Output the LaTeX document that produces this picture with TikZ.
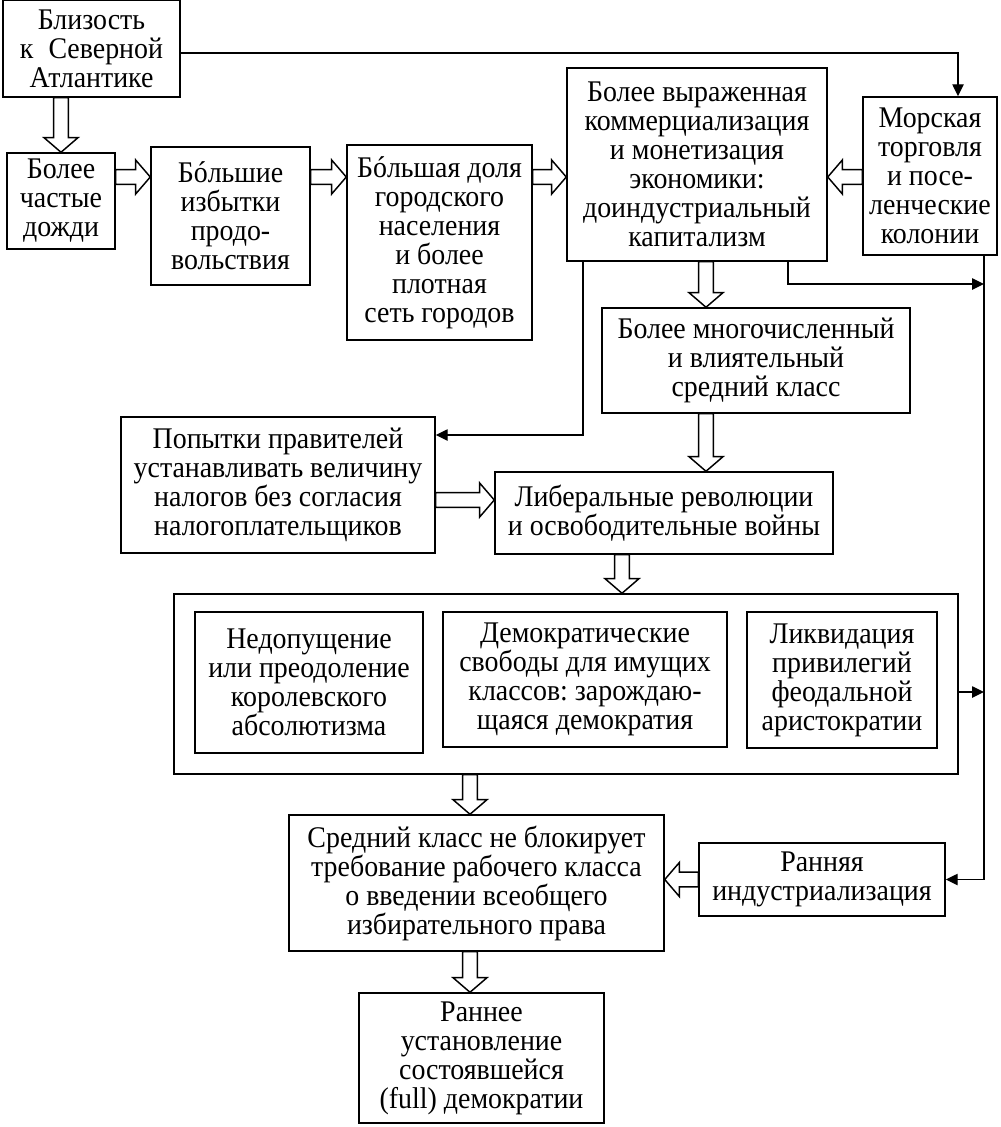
\documentclass[tikz,border=0pt]{standalone}
\usepackage{fontspec}
\setmainfont{Liberation Serif}[FakeStretch=0.93]
\frenchspacing
\usetikzlibrary{calc,arrows.meta}
\newcommand\bx[6]{\node[rbox, minimum width={(#4-#2)*0.75pt}, minimum height={(#5-#3)*0.75pt}] (#1) at ({(#2+#4)/2},{(#3+#5)/2}) {#6};}
\newcommand\hollow[2]{%
  \coordinate (hA) at #1; \coordinate (hB) at #2;
  \coordinate (hC) at ($(hB)!11pt!(hA)$);
  \draw[hollowarrow] ($(hA)!5.6pt!90:(hB)$) -- ($(hC)!5.6pt!90:(hB)$) -- ($(hC)!12.8pt!90:(hB)$) -- (hB)
     -- ($(hC)!12.8pt!-90:(hB)$) -- ($(hC)!5.6pt!-90:(hB)$) -- ($(hA)!5.6pt!-90:(hB)$) -- cycle;}
\begin{document}
\begin{tikzpicture}[x=0.75pt,y=-0.75pt,
  rbox/.style={draw, line width=1.1pt, align=center, inner sep=0pt, font=\fontsize{22.5}{21.75}\selectfont},
  hollowarrow/.style={draw, fill=white, line width=1.1pt, line join=miter},
  conn/.style={draw, line width=1.1pt, -{Triangle[length=9pt,width=8.5pt]}},
  plain/.style={draw, line width=1.1pt}]
\useasboundingbox (0,0) rectangle (1000,1127);

\bx{blz}{3}{0}{180}{97}{Близость\\к\enspace Северной\\Атлантике}
\bx{dzh}{7}{153}{115}{249}{Более\\частые\\дожди}
\bx{bsh}{151}{147}{310}{285}{Бóльшие\\избытки\\продо-\\вольствия}
\bx{bdl}{347}{145}{532}{340}{Бóльшая доля\\городского\\населения\\и более\\плотная\\сеть городов}
\bx{vyr}{567}{68}{827}{261}{Более выраженная\\коммерциализация\\и монетизация\\экономики:\\доиндустриальный\\капитализм}
\bx{mor}{863}{97}{997}{255}{Морская\\торговля\\и посе-\\ленческие\\колонии}
\bx{mng}{602}{308}{910}{413}{Более многочисленный\\и влиятельный\\средний класс}
\bx{pop}{121}{417}{435}{553}{Попытки правителей\\устанавливать величину\\налогов без согласия\\налогоплательщиков}
\bx{lib}{495}{472}{833}{554}{Либеральные революции\\и освободительные войны}
\bx{cont}{174}{594}{958}{774}{}
\bx{ned}{195}{612}{423}{753}{Недопущение\\или преодоление\\королевского\\абсолютизма}
\bx{dem}{443}{612}{727}{747}{Демократические\\свободы для имущих\\классов: зарождаю-\\щаяся демократия}
\bx{lik}{747}{612}{937}{748}{Ликвидация\\привилегий\\феодальной\\аристократии}
\bx{sred}{289}{815}{664}{951}{Средний класс не блокирует\\требование рабочего класса\\о введении всеобщего\\избирательного права}
\bx{ran}{699}{843}{945}{916}{Ранняя\\индустриализация}
\bx{rnn}{359}{993}{604}{1123}{Раннее\\установление\\состоявшейся\\(full) демократии}

% helper coordinates
\coordinate (rowy) at (0,177);
\coordinate (colA) at (706,0);
\coordinate (yB) at (0,500);
\coordinate (xC) at (622,0);
\coordinate (xD) at (470,0);
\coordinate (tr) at (958,53);
\coordinate (rl) at (984,0);
\coordinate (xL) at (583,435);
\coordinate (xR) at (788,284);
\coordinate (yK) at (0,692);

% hollow arrows
\hollow{(blz.south -| dzh.north)}{(dzh.north)}
\hollow{(dzh.east |- rowy)}{(bsh.west |- rowy)}
\hollow{(bsh.east |- rowy)}{(bdl.west |- rowy)}
\hollow{(bdl.east |- rowy)}{(vyr.west |- rowy)}
\hollow{(mor.west |- rowy)}{(vyr.east |- rowy)}
\hollow{(vyr.south -| colA)}{(mng.north -| colA)}
\hollow{(mng.south -| colA)}{(lib.north -| colA)}
\hollow{(pop.east |- yB)}{(lib.west |- yB)}
\hollow{(lib.south -| xC)}{(cont.north -| xC)}
\hollow{(cont.south -| xD)}{(sred.north -| xD)}
\hollow{(ran.west)}{(sred.east |- ran.west)}
\hollow{(sred.south -| xD)}{(rnn.north -| xD)}

% line connectors
\draw[conn] (blz.east |- tr) -| (mor.north -| tr);
\draw[conn] (vyr.south -| xL) |- (pop.east |- xL);
\draw[conn] (vyr.south -| xR) |- (xR -| rl);
\draw[conn] (mor.south -| rl) |- (ran.east);
\draw[conn] (cont.east |- yK) -- (yK -| rl);
\end{tikzpicture}
\end{document}
